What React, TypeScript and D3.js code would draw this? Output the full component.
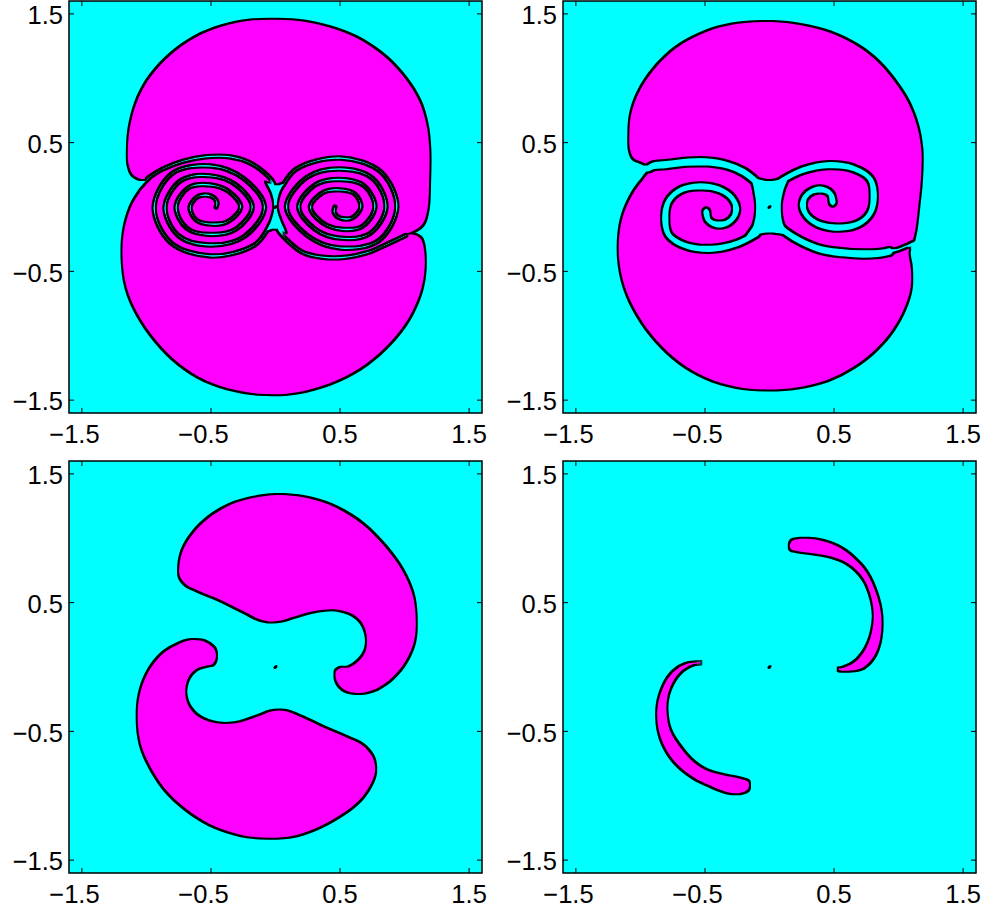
import React from 'react';
import * as d3 from 'd3';

type Pt = [number, number];

// ---- axes ----
const axisDomain: [number, number] = [-1.6, 1.6];
const tickValues = [-1.5, -0.5, 0.5, 1.5];
const tickLabels = ['\u22121.5', '\u22120.5', '0.5', '1.5'];

// ---- panel 1: tightly rolled-up pair of vortices ----
const p1Blob: Pt[] = [
  [-0.952, 0.235], [-1.035, 0.217], [-1.102, 0.25], [-1.138, 0.333], [-1.143, 0.462], [-1.128, 0.617],
  [-1.081, 0.797], [-0.991, 0.978], [-0.849, 1.146], [-0.668, 1.288], [-0.462, 1.386], [-0.23, 1.443],
  [0.003, 1.455], [0.235, 1.437], [0.468, 1.378], [0.674, 1.288], [0.854, 1.159], [1.009, 0.991],
  [1.112, 0.823], [1.169, 0.643], [1.192, 0.436], [1.19, 0.204], [1.179, -0.003], [1.143, -0.126],
  [1.074, -0.183], [0.97, -0.222], [1.061, -0.214], [1.125, -0.248], [1.154, -0.364], [1.148, -0.545],
  [1.099, -0.725], [0.996, -0.919], [0.841, -1.099], [0.648, -1.254], [0.415, -1.37], [0.157, -1.44],
  [-0.075, -1.453], [-0.307, -1.422], [-0.539, -1.345], [-0.746, -1.215], [-0.926, -1.035], [-1.068, -0.828],
  [-1.154, -0.622], [-1.185, -0.39], [-1.172, -0.183], [-1.12, -0.003], [-1.043, 0.126],
];
const p1LeftChannel: Pt[] = [
  [-0.991, 0.222], [-0.875, 0.294], [-0.72, 0.354], [-0.539, 0.39], [-0.359, 0.39], [-0.204, 0.346],
  [-0.088, 0.268], [-0.018, 0.191], [0.0, 0.1],
];
const p1RightChannel: Pt[] = [
  [1.009, -0.222], [0.88, -0.281], [0.725, -0.351], [0.545, -0.39], [0.364, -0.39], [0.209, -0.351],
  [0.093, -0.261], [0.023, -0.183], [0.0, -0.1],
];
const p1Neck: Pt[] = [
  [-0.088, 0.204], [0, 0.183], [0.088, 0.204], [0.041, 0.088], [0.026, 0], [0.054, -0.093],
  [0.093, -0.209], [0, -0.183], [-0.093, -0.209], [-0.049, -0.093], [-0.026, 0], [-0.041, 0.088],
];
const p1LeftSpiral: Pt[] = [
  [-0.06, -0.17],
  [-0.164, -0.296], [-0.5, -0.38], [-0.813, -0.275], [-0.94, 0], [-0.798, 0.262], [-0.5, 0.318], [-0.248, 0.222], [-0.085, 0],
  [-0.24, -0.228], [-0.5, -0.295], [-0.752, -0.222], [-0.856, 0], [-0.733, 0.205], [-0.5, 0.242], [-0.305, 0.171], [-0.18, 0],
  [-0.305, -0.171], [-0.5, -0.214], [-0.687, -0.165], [-0.77, 0], [-0.672, 0.151], [-0.5, 0.171], [-0.363, 0.121], [-0.27, 0],
  [-0.37, -0.114], [-0.5, -0.133], [-0.615, -0.101], [-0.662, 0], [-0.595, 0.084], [-0.5, 0.086], [-0.454, 0.04], [-0.46, 0.0],
];
const p1RightSpiral: Pt[] = [
  [0.06, 0.17],
  [0.164, 0.296], [0.5, 0.38], [0.813, 0.275], [0.94, 0], [0.798, -0.262], [0.5, -0.318], [0.248, -0.222], [0.085, 0],
  [0.24, 0.228], [0.5, 0.295], [0.752, 0.222], [0.856, 0], [0.733, -0.205], [0.5, -0.242], [0.305, -0.171], [0.18, 0],
  [0.305, 0.171], [0.5, 0.214], [0.687, 0.165], [0.77, 0], [0.672, -0.151], [0.5, -0.171], [0.363, -0.121], [0.27, 0],
  [0.37, 0.114], [0.5, 0.133], [0.615, 0.101], [0.662, 0], [0.595, -0.084], [0.5, -0.086], [0.454, -0.04], [0.46, 0.0],
];

// ---- panel 2: partially rolled-up vortices ----
const p2Blob: Pt[] = [
  [-0.914, 0.307], [-0.983, 0.348], [-1.05, 0.379], [-1.081, 0.449], [-1.086, 0.565], [-1.074, 0.707],
  [-1.03, 0.849], [-0.952, 0.991], [-0.836, 1.133], [-0.681, 1.262], [-0.488, 1.36], [-0.281, 1.417],
  [-0.049, 1.437], [0.183, 1.422], [0.415, 1.37], [0.622, 1.283], [0.803, 1.159], [0.957, 0.991],
  [1.074, 0.81], [1.143, 0.63], [1.177, 0.436], [1.174, 0.23], [1.154, 0.023], [1.133, -0.157],
  [1.11, -0.26], [1.08, -0.33], [1.08, -0.39], [1.094, -0.467], [1.094, -0.622],
  [1.048, -0.777], [0.957, -0.945], [0.828, -1.099], [0.648, -1.241], [0.441, -1.345], [0.209, -1.401],
  [-0.023, -1.417], [-0.255, -1.396], [-0.488, -1.324], [-0.694, -1.203], [-0.875, -1.035], [-1.017, -0.841],
  [-1.12, -0.622], [-1.166, -0.39], [-1.159, -0.183], [-1.12, -0.028], [-1.043, 0.126], [-0.965, 0.23],
];
const p2LeftChannel: Pt[] = [
  [-0.93, 0.305], [-0.898, 0.32], [-0.795, 0.33], [-0.64, 0.348], [-0.485, 0.35], [-0.33, 0.325],
  [-0.201, 0.272], [-0.098, 0.191], [-0.021, 0.108],
];
const p2RightExit: Pt[] = [
  [1.14, -0.265], [1.06, -0.305], [0.98, -0.335], [0.9, -0.35],
];
const p2RightChannel: Pt[] = [
  [0.93, -0.345], [0.85, -0.36], [0.72, -0.365], [0.56, -0.355], [0.4, -0.33], [0.25, -0.27],
  [0.12, -0.19], [0.03, -0.11],
];
const p2Neck: Pt[] = [
  [-0.15, 0.237], [0.005, 0.217], [0.16, 0.25], [0.121, 0.108], [0.103, 0.005], [0.121, -0.124],
  [0.186, -0.227], [-0.008, -0.214], [-0.201, -0.24], [-0.137, -0.124], [-0.119, 0.005], [-0.137, 0.134],
];
const p2LeftSpiral: Pt[] = [
  [-0.098, -0.206], [-0.253, -0.284], [-0.459, -0.325], [-0.653, -0.299], [-0.782, -0.214], [-0.808, -0.077],
  [-0.782, 0.044], [-0.692, 0.129], [-0.55, 0.16], [-0.395, 0.139], [-0.292, 0.07], [-0.258, -0.021],
  [-0.299, -0.103], [-0.395, -0.137], [-0.472, -0.103], [-0.49, -0.034],
];
const p2RightSpiral: Pt[] = [
  [0.098, 0.206], [0.253, 0.284], [0.459, 0.325], [0.653, 0.299], [0.782, 0.214], [0.808, 0.077],
  [0.782, -0.044], [0.692, -0.129], [0.55, -0.16], [0.395, -0.139], [0.292, -0.07], [0.258, 0.021],
  [0.299, 0.103], [0.395, 0.137], [0.472, 0.103], [0.49, 0.034],
];

// ---- panel 3: two separated S-shaped lobes ----
const p3UpperLobe: Pt[] = [
  [-0.746, 0.772], [-0.72, 0.9], [-0.643, 1.03], [-0.514, 1.159], [-0.307, 1.275], [-0.049, 1.332],
  [0.08, 1.334], [0.261, 1.308], [0.468, 1.236], [0.674, 1.107], [0.854, 0.926], [0.983, 0.746],
  [1.061, 0.565], [1.086, 0.385], [1.074, 0.204], [1.009, 0.049], [0.906, -0.08], [0.777, -0.17],
  [0.648, -0.201], [0.545, -0.183], [0.48, -0.119], [0.467, -0.041], [0.506, -0.008], [0.57, -0.003],
  [0.648, 0.049], [0.699, 0.126], [0.705, 0.255], [0.661, 0.359], [0.57, 0.423], [0.441, 0.449],
  [0.312, 0.436], [0.157, 0.397], [0.028, 0.359], [-0.049, 0.354], [-0.126, 0.372], [-0.255, 0.436],
  [-0.436, 0.526], [-0.591, 0.591], [-0.694, 0.643], [-0.741, 0.707],
];
const p3LowerLobe: Pt[] = [
  [-0.462, 0.075], [-0.488, 0.023], [-0.539, 0.01], [-0.617, -0.015], [-0.681, -0.093], [-0.699, -0.209],
  [-0.668, -0.312], [-0.591, -0.39], [-0.462, -0.436], [-0.307, -0.436], [-0.152, -0.39], [-0.023, -0.343],
  [0.08, -0.343], [0.209, -0.395], [0.364, -0.467], [0.545, -0.545], [0.674, -0.609], [0.751, -0.699],
  [0.772, -0.803], [0.738, -0.906], [0.648, -1.035], [0.519, -1.138], [0.338, -1.241], [0.157, -1.306],
  [-0.049, -1.326], [-0.255, -1.306], [-0.462, -1.241], [-0.643, -1.138], [-0.823, -0.983], [-0.952, -0.803],
  [-1.043, -0.596], [-1.068, -0.364], [-1.043, -0.183], [-0.978, -0.028], [-0.875, 0.101], [-0.746, 0.178],
  [-0.643, 0.209], [-0.539, 0.191], [-0.475, 0.139],
];

// ---- panel 4: two thin crescents ----
const p4UpperArc: Pt[] = [
  [0.157, 0.94], [0.18, 0.982], [0.235, 0.995], [0.364, 0.988], [0.519, 0.939], [0.648, 0.849],
  [0.751, 0.733], [0.828, 0.565], [0.867, 0.385], [0.854, 0.204], [0.803, 0.075], [0.725, -0.003],
  [0.622, -0.028], [0.545, -0.025], [0.535, -0.015], [0.57, -0.008], [0.661, 0.036], [0.738, 0.126],
  [0.79, 0.255], [0.808, 0.41], [0.782, 0.565], [0.725, 0.694], [0.622, 0.797], [0.493, 0.854],
  [0.338, 0.883], [0.222, 0.9], [0.172, 0.912],
];
const p4LowerArc: Pt[] = [
  [-0.539, 0.036], [-0.643, 0.023], [-0.746, -0.041], [-0.823, -0.157], [-0.867, -0.312], [-0.862, -0.467],
  [-0.81, -0.622], [-0.72, -0.75], [-0.591, -0.854], [-0.462, -0.919], [-0.333, -0.97], [-0.23, -0.978],
  [-0.165, -0.945], [-0.165, -0.893], [-0.23, -0.867], [-0.359, -0.841], [-0.488, -0.803], [-0.591, -0.738],
  [-0.694, -0.622], [-0.772, -0.493], [-0.797, -0.364], [-0.792, -0.235], [-0.751, -0.119], [-0.681, -0.028],
  [-0.604, 0.018], [-0.535, 0.031],
];

// stagnation point marker at the centre of each panel
const stagnationPoint: Pt = [0, 0];

type Layer = { pts: Pt[]; keep: boolean; band?: number };
type PanelSpec = { x0: number; y0: number; layers: Layer[] };

const PW = 413;
const PH = 412;

const panels: PanelSpec[] = [
  {
    x0: 69, y0: 1,
    layers: [
      { pts: p1Blob, keep: true },
      { pts: p1Neck, keep: false },
      { pts: p1LeftChannel, keep: false, band: 0.042 },
      { pts: p1RightChannel, keep: false, band: 0.042 },
      { pts: p1LeftSpiral, keep: false, band: 0.042 },
      { pts: p1RightSpiral, keep: false, band: 0.042 },
    ],
  },
  {
    x0: 563, y0: 1,
    layers: [
      { pts: p2Blob, keep: true },
      { pts: p2Neck, keep: false },
      { pts: p2LeftChannel, keep: false, band: 0.088 },
      { pts: p2RightChannel, keep: false, band: 0.088 },
      { pts: p2RightExit, keep: false, band: 0.05 },
      { pts: p2LeftSpiral, keep: false, band: 0.08 },
      { pts: p2RightSpiral, keep: false, band: 0.08 },
    ],
  },
  {
    x0: 69, y0: 461,
    layers: [
      { pts: p3UpperLobe, keep: true },
      { pts: p3LowerLobe, keep: true },
    ],
  },
  {
    x0: 563, y0: 461,
    layers: [
      { pts: p4UpperArc, keep: true },
      { pts: p4LowerArc, keep: true },
    ],
  },
];

const FONT = '"Liberation Sans", Arial, Helvetica, sans-serif';
const FS = 25.5;

function Panel({ spec, idx }: { spec: PanelSpec; idx: number }) {
  const { x0, y0 } = spec;
  const x = d3.scaleLinear().domain(axisDomain).range([x0, x0 + PW]);
  const y = d3.scaleLinear().domain(axisDomain).range([y0 + PH, y0]);
  const pxPerUnit = Math.abs(x(1) - x(0));

  const closed = d3
    .line<Pt>()
    .x((d) => x(d[0]))
    .y((d) => y(d[1]))
    .curve(d3.curveCatmullRomClosed.alpha(0.5));
  const open = d3
    .line<Pt>()
    .x((d) => x(d[0]))
    .y((d) => y(d[1]))
    .curve(d3.curveCatmullRom.alpha(0.5));

  const maskId = `region${idx}`;
  const edgeId = `edge${idx}`;
  const clipId = `frame${idx}`;
  const x1 = x0 + PW;
  const y1 = y0 + PH;
  const tl = 5;

  return (
    <g>
      <defs>
        <clipPath id={clipId}>
          <rect x={x0} y={y0} width={PW} height={PH} />
        </clipPath>
        <mask id={maskId} maskUnits="userSpaceOnUse" x={x0} y={y0} width={PW} height={PH}>
          <rect x={x0} y={y0} width={PW} height={PH} fill="black" />
          {spec.layers.map((l, i) =>
            l.band ? (
              <path
                key={i}
                d={open(l.pts) || ''}
                fill="none"
                stroke={l.keep ? 'white' : 'black'}
                strokeWidth={l.band * pxPerUnit}
                strokeLinecap="round"
                strokeLinejoin="round"
              />
            ) : (
              <path key={i} d={closed(l.pts) || ''} fill={l.keep ? 'white' : 'black'} />
            )
          )}
        </mask>
        <filter id={edgeId} filterUnits="userSpaceOnUse" x={x0} y={y0} width={PW} height={PH}>
          <feMorphology operator="dilate" radius={1.5} />
        </filter>
      </defs>
      <g clipPath={`url(#${clipId})`}>
        <rect x={x0} y={y0} width={PW} height={PH} fill="#00ffff" />
        <g filter={`url(#${edgeId})`}>
          <rect x={x0} y={y0} width={PW} height={PH} fill="#000" mask={`url(#${maskId})`} />
        </g>
        <rect x={x0} y={y0} width={PW} height={PH} fill="#ff00ff" mask={`url(#${maskId})`} />
        <ellipse
          cx={x(stagnationPoint[0])}
          cy={y(stagnationPoint[1])}
          rx={2.4}
          ry={1.5}
          fill="#000"
          transform={`rotate(-40 ${x(stagnationPoint[0])} ${y(stagnationPoint[1])})`}
        />
      </g>
      <rect x={x0} y={y0} width={PW} height={PH} fill="none" stroke="#000" strokeWidth={1.5} />
      {tickValues.map((v, i) => (
        <g key={i} stroke="#000" strokeWidth={1}>
          <line x1={x(v)} x2={x(v)} y1={y1} y2={y1 - tl} />
          <line x1={x(v)} x2={x(v)} y1={y0} y2={y0 + tl} />
          <line x1={x0} x2={x0 + tl} y1={y(v)} y2={y(v)} />
          <line x1={x1} x2={x1 - tl} y1={y(v)} y2={y(v)} />
        </g>
      ))}
      {tickValues.map((v, i) => (
        <text
          key={`yl${i}`}
          x={x0 - 6}
          y={y(v) + 10.3}
          textAnchor="end"
          fontFamily={FONT}
          fontSize={FS}
          fill="#000"
        >
          {tickLabels[i]}
        </text>
      ))}
      {tickValues.map((v, i) => (
        <text
          key={`xl${i}`}
          x={x(v) + FS * 0.695}
          y={y1 + 30}
          textAnchor="end"
          fontFamily={FONT}
          fontSize={FS}
          fill="#000"
        >
          {tickLabels[i]}
        </text>
      ))}
    </g>
  );
}

export default function App() {
  return (
    <svg
      width={985}
      height={911}
      viewBox="0 0 985 911"
      style={{ position: 'absolute', left: 0, top: 0, display: 'block', background: '#fff' }}
    >
      {panels.map((p, i) => (
        <Panel key={i} spec={p} idx={i} />
      ))}
    </svg>
  );
}
